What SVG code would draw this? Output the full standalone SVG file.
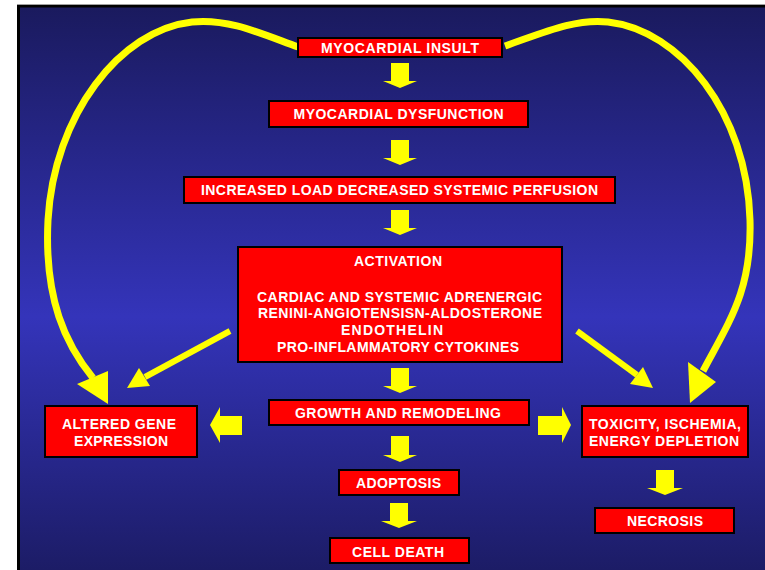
<svg xmlns="http://www.w3.org/2000/svg" width="765" height="570" viewBox="0 0 765 570">
  <defs>
    <linearGradient id="bg" x1="0" y1="0" x2="0" y2="1">
      <stop offset="0" stop-color="#1a1a5e"/>
      <stop offset="0.55" stop-color="#3434ba"/>
      <stop offset="1" stop-color="#1c1c66"/>
    </linearGradient>
    <style>
      .box { fill: #ff0000; stroke: #000000; stroke-width: 2; }
      .lbl { fill: #ffffff; font-family: "Liberation Sans", Arial, sans-serif; font-weight: bold; font-size: 14px; text-anchor: middle; }
      .arw { fill: #ffff00; stroke: none; }
      .crv { fill: none; stroke: #ffff00; stroke-width: 7; stroke-linecap: butt; }
      .dia { fill: none; stroke: #ffff00; stroke-width: 6; }
    </style>
  </defs>

  <rect x="0" y="0" width="765" height="570" fill="#ffffff"/>
  <rect x="17" y="4" width="748" height="1.5" fill="#a0a0a0"/>
  <rect x="17" y="5" width="748" height="565" fill="#000000"/>
  <rect x="20" y="7.5" width="745" height="562.5" fill="url(#bg)"/>

  <g id="connectors">
    <!-- big feedback curves -->
    <path class="crv" d="M 298,47 C 262,34 228,18 192,22 C 120,30 54,115 48,220 C 44,300 66,345 93,378"/>
    <polygon class="arw" points="77,384 108,371 108,404"/>
    <path class="crv" d="M 505,46 C 540,34 575,18 608,22 C 680,30 747,112 750,220 C 752,290 730,320 703,371"/>
    <polygon class="arw" points="688,362 716,382 690,403"/>
    <!-- diagonal arrows -->
    <line class="dia" x1="230" y1="331" x2="145" y2="377"/>
    <polygon class="arw" points="139,368 150,386 127,388"/>
    <line class="dia" x1="577" y1="331" x2="637" y2="375"/>
    <polygon class="arw" points="643,367 630,384 653,388"/>
    <!-- down block arrows -->
    <polygon class="arw" points="391,63 409,63 409,81 417,81 400,88 383,81 391,81"/>
    <polygon class="arw" points="391,140 409,140 409,158 417,158 400,165 383,158 391,158"/>
    <polygon class="arw" points="391,210 409,210 409,228 417,228 400,235 383,228 391,228"/>
    <polygon class="arw" points="391,368 409,368 409,386 417,386 400,393 383,386 391,386"/>
    <polygon class="arw" points="391,436 409,436 409,455 417,455 400,462 383,455 391,455"/>
    <polygon class="arw" points="390,503 408,503 408,521 417,521 399,528 381,521 390,521"/>
    <polygon class="arw" points="656,470 674,470 674,488 683,488 665,495 647,488 656,488"/>
    <!-- horizontal block arrows -->
    <polygon class="arw" points="242,416 242,435 220,435 220,443 210,425 220,407 220,416"/>
    <polygon class="arw" points="538,416 562,416 562,407 571,425 562,443 562,435 538,435"/>
  </g>

  <g id="n-insult">
    <rect class="box" x="298" y="38" width="204" height="19"/>
    <text class="lbl" x="400" y="52.5" textLength="158">MYOCARDIAL INSULT</text>
  </g>
  <g id="n-dysfunction">
    <rect class="box" x="269" y="101" width="259" height="26"/>
    <text class="lbl" x="398.5" y="119" textLength="210">MYOCARDIAL DYSFUNCTION</text>
  </g>
  <g id="n-load">
    <rect class="box" x="184" y="177" width="431" height="26"/>
    <text class="lbl" x="399.5" y="195" textLength="397">INCREASED LOAD DECREASED SYSTEMIC PERFUSION</text>
  </g>
  <g id="n-activation">
    <rect class="box" x="238" y="247" width="324" height="115"/>
    <text class="lbl" x="398" y="266" textLength="88">ACTIVATION</text>
    <text class="lbl" x="399.5" y="302" textLength="285">CARDIAC AND SYSTEMIC ADRENERGIC</text>
    <text class="lbl" x="400" y="318" textLength="284">RENINI-ANGIOTENSISN-ALDOSTERONE</text>
    <text class="lbl" x="392" y="335" textLength="102">ENDOTHELIN</text>
    <text class="lbl" x="398" y="352" textLength="242">PRO-INFLAMMATORY CYTOKINES</text>
  </g>
  <g id="n-growth">
    <rect class="box" x="269" y="400" width="260" height="25"/>
    <text class="lbl" x="398" y="417.5" textLength="206">GROWTH AND REMODELING</text>
  </g>
  <g id="n-gene">
    <rect class="box" x="45" y="406" width="152" height="51"/>
    <text class="lbl" x="119" y="428.5" textLength="114">ALTERED GENE</text>
    <text class="lbl" x="121" y="445.5" textLength="94">EXPRESSION</text>
  </g>
  <g id="n-toxicity">
    <rect class="box" x="582" y="406" width="166" height="51"/>
    <text class="lbl" x="665" y="429" textLength="152">TOXICITY, ISCHEMIA,</text>
    <text class="lbl" x="664" y="446" textLength="150">ENERGY DEPLETION</text>
  </g>
  <g id="n-necrosis">
    <rect class="box" x="595" y="508" width="139" height="25"/>
    <text class="lbl" x="665" y="526" textLength="76">NECROSIS</text>
  </g>
  <g id="n-adoptosis">
    <rect class="box" x="339" y="470" width="120" height="25"/>
    <text class="lbl" x="398.5" y="487.5" textLength="85">ADOPTOSIS</text>
  </g>
  <g id="n-celldeath">
    <rect class="box" x="330" y="538" width="139" height="25"/>
    <text class="lbl" x="398" y="557" textLength="92">CELL DEATH</text>
  </g>
</svg>
